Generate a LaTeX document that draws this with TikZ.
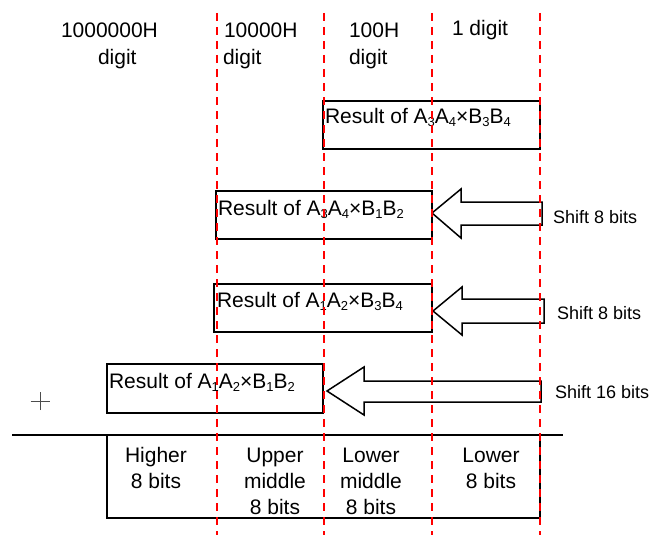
\documentclass[tikz,border=0pt]{standalone}
\usepackage{fontspec}
\setmainfont{Liberation Sans}
\newcommand\sbs[1]{\raisebox{-3pt}{\fontsize{13}{13}\selectfont #1}}
\begin{document}
\begin{tikzpicture}[x=1pt,y=-1pt,
  box/.style={draw=black,line width=1.5pt,fill=white,inner sep=0pt,outer sep=0pt,anchor=north west},
  txt/.style={inner sep=0pt,outer sep=0pt,anchor=base west,font=\fontsize{21}{26}\selectfont},
  ctxt/.style={inner sep=0pt,outer sep=0pt,anchor=base,font=\fontsize{21}{26}\selectfont},
  stxt/.style={inner sep=0pt,outer sep=0pt,anchor=base west,font=\fontsize{18}{21}\selectfont},
  guide/.style={draw=red,line width=1.8pt,dash pattern=on 8pt off 6pt},
  barrow/.style={draw=black,line width=1.5pt,fill=white,line join=miter},
  rule/.style={draw=black,line width=1.5pt},
  plus/.style={draw=black!70,line width=0.8pt}]
\useasboundingbox (0,0) rectangle (653,535);

% header
\node[txt] (h1a) at (61,38) {1000000H};
\node[txt] (h1b) at (98,65) {digit};
\node[txt] (h2a) at (224,38) {10000H};
\node[txt] (h2b) at (223,65) {digit};
\node[txt] (h3a) at (349,38) {100H};
\node[txt] (h3b) at (349,65) {digit};
\node[txt] (h4a) at (452,36) {1 digit};

% partial product boxes
\node[box,minimum width=217pt,minimum height=48pt] (b1) at (323,101) {};
\node[box,minimum width=216pt,minimum height=48pt] (b2) at (216,191) {};
\node[box,minimum width=218pt,minimum height=48pt] (b3) at (214,284) {};
\node[box,minimum width=216pt,minimum height=49pt] (b4) at (107,364) {};

\node[txt] (t1) at (325,123) {Result of A\sbs{3}A\sbs{4}×B\sbs{3}B\sbs{4}};
\node[txt] (t2) at (218,215) {Result of A\sbs{3}A\sbs{4}×B\sbs{1}B\sbs{2}};
\node[txt] (t3) at (217,307) {Result of A\sbs{1}A\sbs{2}×B\sbs{3}B\sbs{4}};
\node[txt] (t4) at (109,388) {Result of A\sbs{1}A\sbs{2}×B\sbs{1}B\sbs{2}};

% block arrows
\coordinate (a1) at (432,213);
\coordinate (a2) at (433,311);
\coordinate (a3) at (327,391);
\draw[barrow] (a1) -- (461,189) -- (461,202) -- (542,202) -- (542,225) -- (461,225) -- (461,238) -- cycle;
\draw[barrow] (a2) -- (462,287) -- (462,299) -- (544,299) -- (544,323) -- (462,323) -- (462,335) -- cycle;
\draw[barrow] (a3) -- (364,367) -- (364,381) -- (541,381) -- (541,402) -- (364,402) -- (364,415) -- cycle;

\node[stxt] (s1) at (553,223) {Shift 8 bits};
\node[stxt] (s2) at (557,319) {Shift 8 bits};
\node[stxt] (s3) at (555,398) {Shift 16 bits};

% plus sign
\coordinate (p) at (40,401);
\draw[plus] ([xshift=-9.5pt]p) -- ([xshift=9.5pt]p);
\draw[plus] ([yshift=-9pt]p) -- ([yshift=9pt]p);

% sum line and result box
\coordinate (l0) at (12,435);
\coordinate (l1) at (563,435);
\draw[rule] (l0) -- (l1);
\node[box,minimum width=433pt,minimum height=83pt] (r) at (107,435) {};

\node[ctxt] (c1) at (156,462) {\begin{tabular}[t]{@{}c@{}}Higher\\8 bits\end{tabular}};
\node[ctxt] (c2) at (275,462) {\begin{tabular}[t]{@{}c@{}}Upper\\middle\\8 bits\end{tabular}};
\node[ctxt] (c3) at (371,462) {\begin{tabular}[t]{@{}c@{}}Lower\\middle\\8 bits\end{tabular}};
\node[ctxt] (c4) at (491,462) {\begin{tabular}[t]{@{}c@{}}Lower\\8 bits\end{tabular}};

% guide lines
\foreach \gx/\gn in {217/g1,324/g2,432/g3,540/g4}{
  \coordinate (\gn t) at (\gx,13);
  \coordinate (\gn b) at (\gx,535);
  \draw[guide] (\gn t) -- (\gn b);
}
\end{tikzpicture}
\end{document}
